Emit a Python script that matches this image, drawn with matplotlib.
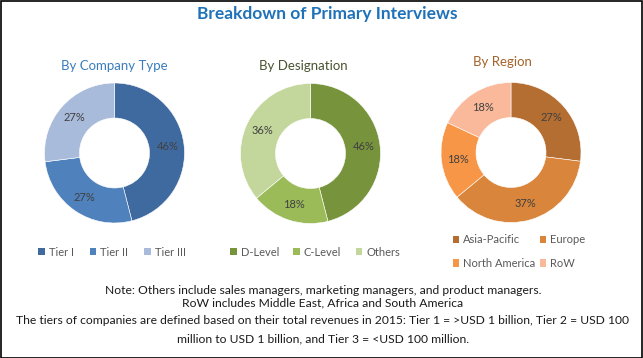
import matplotlib
matplotlib.use("Agg")
import matplotlib.pyplot as plt
from matplotlib.patches import Patch, Rectangle

plt.rcParams['font.family'] = ['Lato', 'DejaVu Sans']

# data
company_labels = ['Tier I', 'Tier II', 'Tier III']
company_values = [46, 27, 27]
company_colors = ['#3F6A9F', '#4F81BD', '#A9BBDA']

desig_labels = ['D-Level', 'C-Level', 'Others']
desig_values = [46, 18, 36]
desig_colors = ['#77933C', '#9BBB59', '#C3D69B']

region_labels = ['Asia-Pacific', 'Europe', 'North America', 'RoW']
region_values = [27, 37, 18, 18]
region_colors = ['#B56E31', '#D9853B', '#F79646', '#F9B99A']

notes = ["Note: Others include sales managers, marketing managers, and product managers.",
         "RoW includes Middle East, Africa and South America",
         "The tiers of companies are defined based on their total revenues in 2015: Tier 1 = >USD 1 billion, Tier 2 = USD 100",
         "million to USD 1 billion, and Tier 3 = <USD 100 million."]

W, H = 643, 358
fig = plt.figure(figsize=(W/100, H/100), dpi=100)
fig.patch.set_facecolor('white')

def px(x, y):
    return x / W, 1 - y / H

def donut(cx, cy, values, colors):
    r = 70
    ax = fig.add_axes([(cx - r) / W, (H - cy - r) / H, 2 * r / W, 2 * r / H])
    wedges, texts, autotexts = ax.pie(values, colors=colors, startangle=90, counterclock=False,
                                      radius=1, autopct='%.0f%%', pctdistance=0.76,
                                      wedgeprops=dict(width=0.5, edgecolor='white', linewidth=0.4),
                                      textprops=dict(fontsize=8, color='#404040'))
    ax.set_xlim(-1, 1)
    ax.set_ylim(-1, 1)
    ax.set_aspect('auto')
    ax.axis('off')
    return wedges

w1 = donut(114.5, 153, company_values, company_colors)
w2 = donut(310.5, 153.5, desig_values, desig_colors)
w3 = donut(511, 152.5, region_values, region_colors)

fig.text(*px(327, 14), 'Breakdown of Primary Interviews', ha='center', va='center',
         fontsize=12.5, fontweight='bold', color='#1F72B8')
fig.text(*px(114, 66), 'By Company Type', ha='center', va='center', fontsize=9.5, color='#3A7DBE')
fig.text(*px(303, 66), 'By Designation', ha='center', va='center', fontsize=9.5, color='#4A5430')
fig.text(*px(502, 62), 'By Region', ha='center', va='center', fontsize=9.5, color='#A5622A')

def legend(labels, colors, x, y, ncol, colsp, labsp=0.5):
    handles = [Patch(facecolor=c, edgecolor='none') for c in colors]
    fig.legend(handles, labels, loc='center', bbox_to_anchor=px(x, y), ncol=ncol, frameon=False,
               fontsize=8, handlelength=0.6, handleheight=0.6, handletextpad=0.35,
               columnspacing=colsp, labelspacing=labsp, labelcolor='#595959', borderpad=0)

legend(company_labels, company_colors, 112, 252, 3, 1.45)
legend(desig_labels, desig_colors, 315, 252, 3, 1.3)
# legend fills column by column, so order the entries to read row by row
order = [0, 2, 1, 3]
legend([region_labels[i] for i in order], [region_colors[i] for i in order], 519, 251.5, 2, 0.35, labsp=1.15)

for t, y in zip(notes, [291, 303, 320, 339]):
    fig.text(*px(323, y), t, ha='center', va='center', fontsize=8.7, color='#1a1a1a')

fig.patches.append(Rectangle((0.5 / W, 0.5 / H), 1 - 1.5 / W, 1 - 1.5 / H, transform=fig.transFigure,
                             fill=False, edgecolor='black', linewidth=1.2))

fig.savefig('out.png', dpi=100)
